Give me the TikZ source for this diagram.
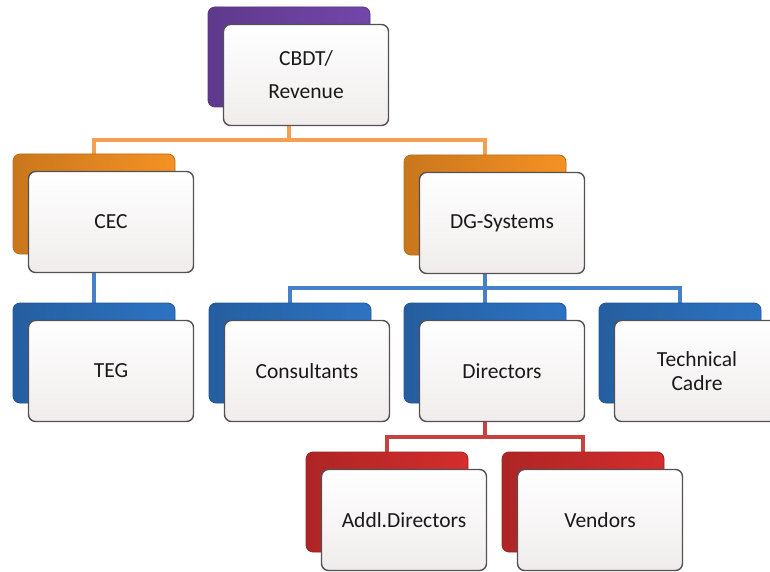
\documentclass[tikz,border=0pt]{standalone}
\usepackage{fontspec}
\setmainfont{Carlito}
\usetikzlibrary{calc,backgrounds}
\definecolor{cpurple}{RGB}{115,70,170}
\definecolor{corange}{RGB}{245,145,35}
\definecolor{cblue}{RGB}{45,115,195}
\definecolor{cred}{RGB}{212,45,45}
\definecolor{lorange}{RGB}{245,160,80}
\definecolor{lblue}{RGB}{70,128,200}
\definecolor{lred}{RGB}{200,65,65}
\definecolor{frontedge}{RGB}{85,80,85}
\definecolor{frontfill}{RGB}{240,236,236}
\begin{document}
\begin{tikzpicture}[x=1pt,y=-1pt,
  backbox/.style={rounded corners=7pt, minimum width=162pt, minimum height=100pt,
    draw=#1!75!black, line width=0.8pt, left color=#1!82!black, right color=#1, inner sep=0pt},
  frontbox/.style={rounded corners=7pt, minimum width=165pt, minimum height=101pt,
    draw=frontedge, line width=1.4pt, top color=white, bottom color=frontfill,
    font=\fontsize{21.5}{24}\selectfont, text=black!90, align=center, inner sep=0pt},
  link/.style={line width=4pt, draw=#1}]
\useasboundingbox (0,0) rectangle (770,572);
\clip (0,0) rectangle (770,572);
% back boxes
\node[backbox=cpurple] (cbdtB) at (289,57) {};
\node[backbox=corange] (cecB) at (94,204) {};
\node[backbox=corange] (dgB) at (485,205) {};
\node[backbox=cblue] (tegB) at (94,353) {};
\node[backbox=cblue] (conB) at (290,353) {};
\node[backbox=cblue] (dirB) at (485,353) {};
\node[backbox=cblue] (tcB) at (680,353) {};
\node[backbox=cred] (addB) at (387,502) {};
\node[backbox=cred] (venB) at (583,502) {};
% front boxes
\node[frontbox] (cbdtF) at (306,75) {CBDT/\\[9pt]Revenue};
\node[frontbox] (cecF) at (111,222) {CEC};
\node[frontbox] (dgF) at (502,223) {DG-Systems};
\node[frontbox] (tegF) at (111,371) {TEG};
\node[frontbox] (conF) at (307,371) {Consultants};
\node[frontbox] (dirF) at (502,371) {Directors};
\node[frontbox] (tcF) at (697,371) {Technical\\Cadre};
\node[frontbox] (addF) at (404,520) {Addl.Directors};
\node[frontbox] (venF) at (600,520) {Vendors};
% connectors
\begin{pgfonlayer}{background}
\coordinate (bus1) at ($(cbdtF.south)!.5!(cecB.north)$);
\coordinate (bus2) at ($(dgF.south)!.5!(conB.north)$);
\coordinate (bus3) at ($(dirF.south)!.5!(addB.north)$);
\draw[link=lorange] (cbdtB.center) |- (bus1) -| (cecB.north);
\draw[link=lorange] (cbdtB.center) |- (bus1) -| (dgB.north);
\draw[link=lblue] (cecB.center) -- (tegB.north);
\draw[link=lblue] (dgB.center) |- (bus2) -| (conB.north);
\draw[link=lblue] (dgB.center) |- (bus2) -| (dirB.north);
\draw[link=lblue] (dgB.center) |- (bus2) -| (tcB.north);
\draw[link=lred] (dirB.center) |- (bus3) -| (addB.north);
\draw[link=lred] (dirB.center) |- (bus3) -| (venB.north);
\end{pgfonlayer}
\end{tikzpicture}
\end{document}
